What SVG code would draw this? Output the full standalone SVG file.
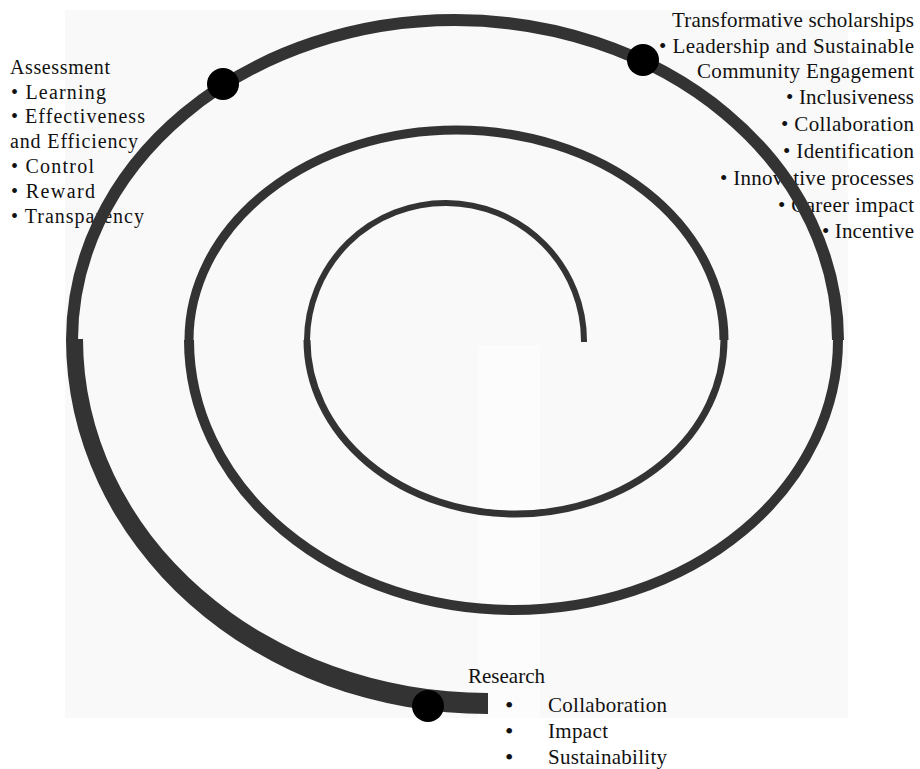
<svg xmlns="http://www.w3.org/2000/svg" width="920" height="769" viewBox="0 0 920 769">
  <style>
    .lbl { font-family: "Liberation Serif", "Times New Roman", serif; font-size: 20px; fill: #111; }
    .lbl21 { font-family: "Liberation Serif", "Times New Roman", serif; font-size: 21px; fill: #111; }
    .dot { font-size: 24px; }
    .coil { fill: none; stroke: #333; stroke-linecap: butt; }
    .stop { fill: #000; }
  </style>

  <!-- page backdrop -->
  <rect x="0" y="0" width="920" height="769" fill="#fff"/>
  <rect x="65" y="10" width="783" height="708" fill="#f9f9f9"/>
  <rect x="478" y="345" width="62" height="373" fill="#fcfcfc"/>

  <!-- stage labels -->
  <g id="assessment">
    <text class="lbl" x="10" y="74" textLength="100" lengthAdjust="spacing">Assessment</text>
    <text class="lbl" x="11" y="99" textLength="95" lengthAdjust="spacing">• Learning</text>
    <text class="lbl" x="11" y="123" textLength="134" lengthAdjust="spacing">• Effectiveness</text>
    <text class="lbl" x="10" y="148" textLength="128" lengthAdjust="spacing">and Efficiency</text>
    <text class="lbl" x="11" y="173" textLength="83" lengthAdjust="spacing">• Control</text>
    <text class="lbl" x="11" y="198" textLength="84" lengthAdjust="spacing">• Reward</text>
    <text class="lbl" x="11" y="223" textLength="133" lengthAdjust="spacing">• Transparency</text>
  </g>

  <g id="transformative">
    <text class="lbl21" x="672" y="27" textLength="242" lengthAdjust="spacing">Transformative scholarships</text>
    <text class="lbl21" x="659" y="53" textLength="255" lengthAdjust="spacing">• Leadership and Sustainable</text>
    <text class="lbl21" x="697" y="78" textLength="217" lengthAdjust="spacing">Community Engagement</text>
    <text class="lbl21" x="786" y="104" textLength="128" lengthAdjust="spacing">• Inclusiveness</text>
    <text class="lbl21" x="781" y="131" textLength="133" lengthAdjust="spacing">• Collaboration</text>
    <text class="lbl21" x="783" y="158" textLength="131" lengthAdjust="spacing">• Identification</text>
    <text class="lbl21" x="720" y="185" textLength="194" lengthAdjust="spacing">• Innovative processes</text>
    <text class="lbl21" x="778" y="212" textLength="136" lengthAdjust="spacing">• Career impact</text>
    <text class="lbl21" x="822" y="238" textLength="92" lengthAdjust="spacing">• Incentive</text>
  </g>

  <g id="research">
    <text class="lbl21" x="468" y="683" textLength="77" lengthAdjust="spacing">Research</text>
    <text class="lbl21 dot" x="505" y="713">•</text>
    <text class="lbl21" x="548" y="712" textLength="119" lengthAdjust="spacing">Collaboration</text>
    <text class="lbl21 dot" x="505" y="739">•</text>
    <text class="lbl21" x="548" y="738" textLength="60" lengthAdjust="spacing">Impact</text>
    <text class="lbl21 dot" x="505" y="765">•</text>
    <text class="lbl21" x="548" y="764" textLength="119" lengthAdjust="spacing">Sustainability</text>
  </g>

  <!-- spiral, built from half-ellipses that thicken outward -->
  <g id="connectors">
    <path class="coil" stroke-width="6" d="M584,342 A138.5,138 0 0 0 307,340"/>
    <path class="coil" stroke-width="7" d="M307,340 A208.5,174 0 0 0 724,340"/>
    <path class="coil" stroke-width="9" d="M724,340 A267.5,210 0 0 0 189,340"/>
    <path class="coil" stroke-width="10" d="M189,340 A324.5,270 0 0 0 838,340"/>
    <path class="coil" stroke-width="12" d="M838,340 A383,320 0 0 0 72,340"/>
    <path fill="#333" d="M66,339 A422,375 0 0 0 488,714 L488,693 A405,354 0 0 1 83,339 Z"/>
  </g>

  <!-- stage markers on the spiral -->
  <g id="marker-assessment"><circle class="stop" cx="223" cy="84" r="16"/></g>
  <g id="marker-transformative"><circle class="stop" cx="643" cy="60" r="16"/></g>
  <g id="marker-research"><circle class="stop" cx="428" cy="706" r="16"/></g>
</svg>
